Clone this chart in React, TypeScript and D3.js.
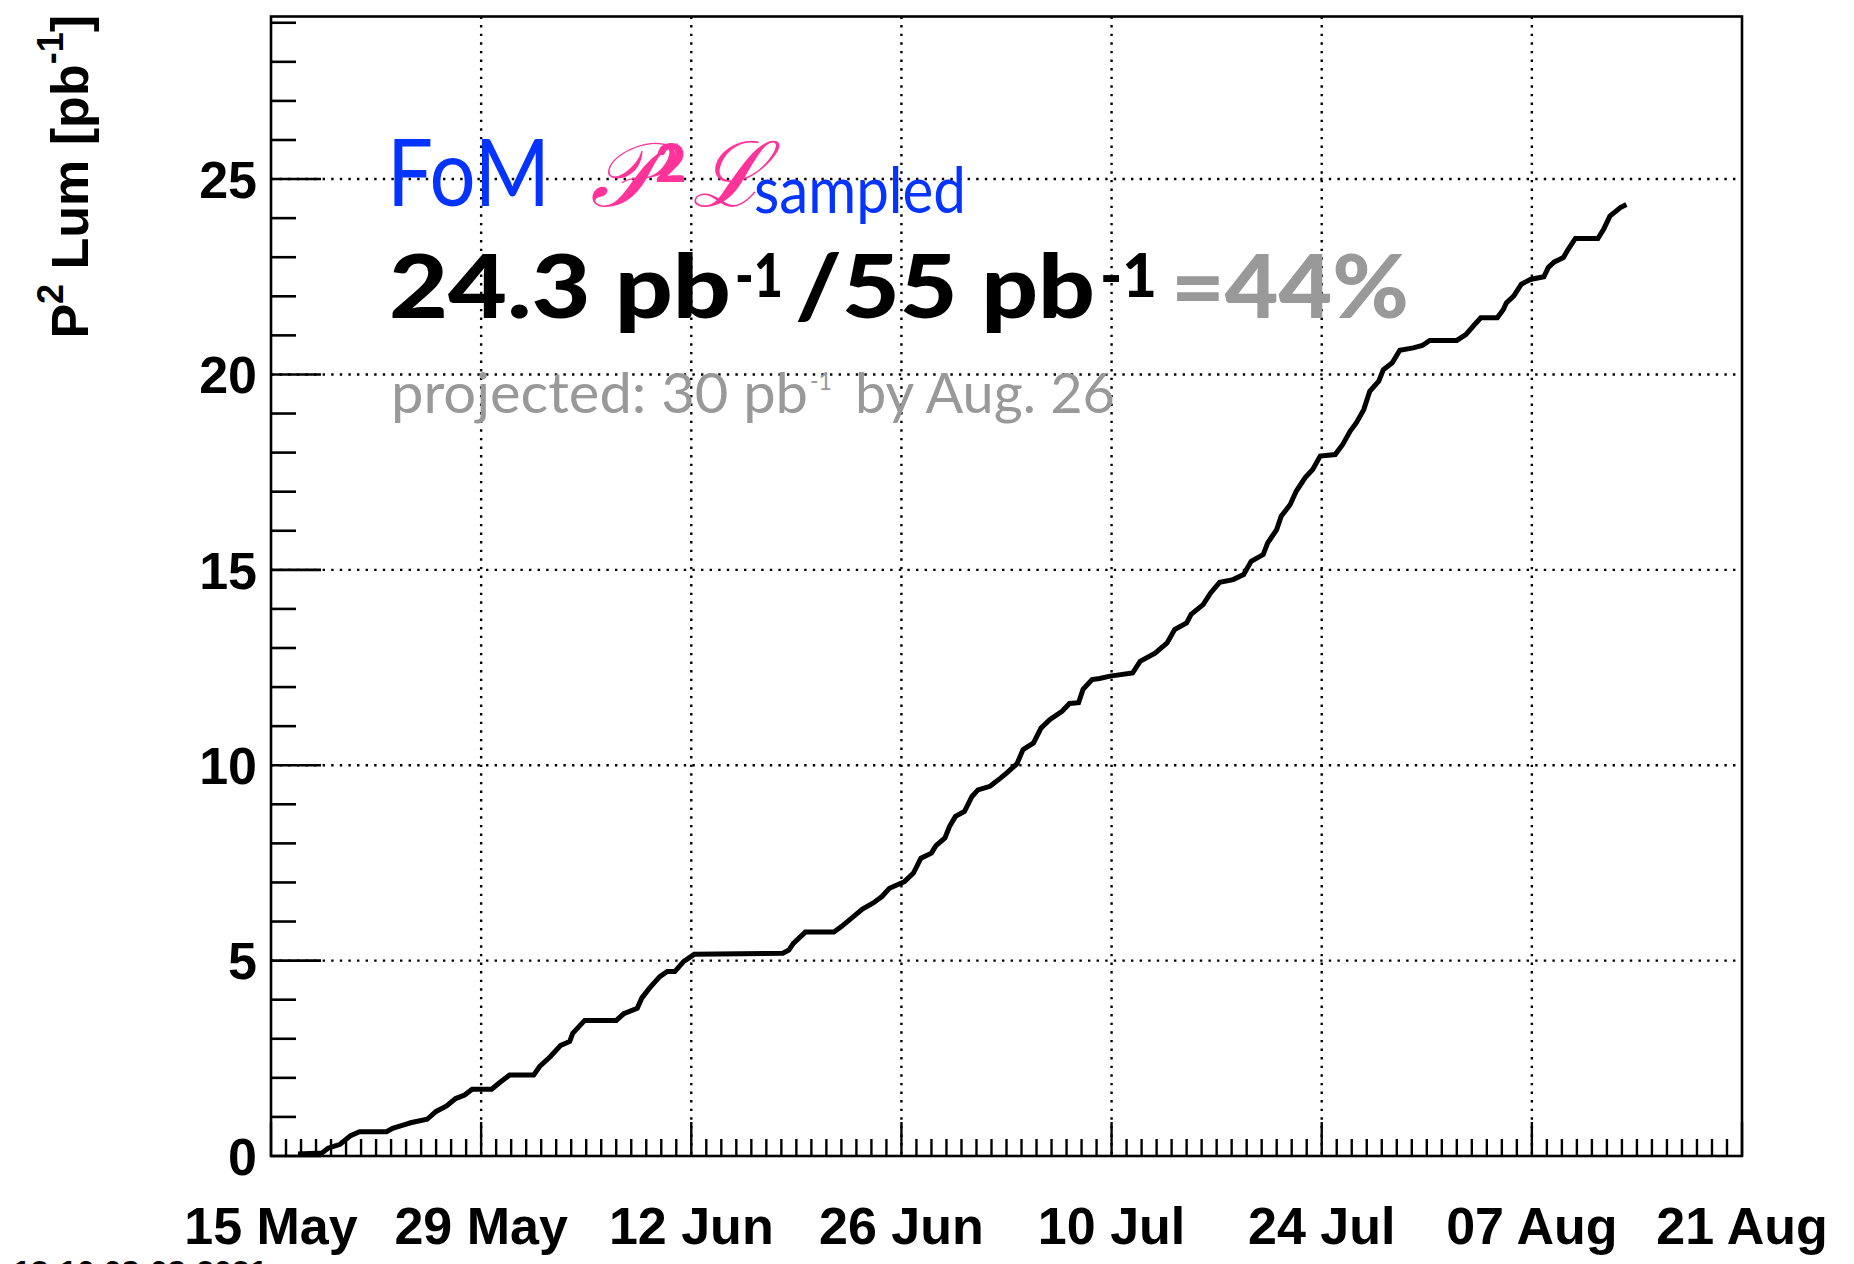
import React from 'react';
import * as d3 from 'd3';

// Days since 15 May 2021 and cumulative P^2-weighted sampled luminosity [pb^-1]
const dayOffsets = [
  1.8, 3.4, 3.8, 4.6, 5.3, 5.9, 7.7, 8.1, 8.8, 9.3, 10.4, 11.0, 11.7, 12.3, 12.9, 13.4,
  14.7, 15.3, 15.9, 17.5, 17.9, 18.6, 19.3, 19.9, 20.1, 20.9, 23.0, 23.5, 24.4, 24.7,
  25.2, 25.9, 26.4, 26.9, 27.5, 28.2, 34.1, 34.5, 34.8, 35.6, 37.5, 38.0, 38.6, 39.4,
  40.1, 40.7, 41.2, 42.2, 42.8, 43.3, 44.0, 44.3, 44.9, 45.2, 45.6, 46.2, 46.7, 47.1,
  47.9, 48.6, 49.0, 49.7, 50.1, 50.8, 51.3, 51.9, 52.7, 53.2, 53.8, 54.1, 54.7, 55.2,
  55.9, 57.4, 57.9, 58.9, 59.7, 60.2, 61.0, 61.3, 62.1, 62.6, 63.2, 64.1, 64.8, 65.3,
  66.1, 66.4, 67.0, 67.3, 67.9, 68.3, 68.9, 69.4, 69.9, 70.9, 71.4, 71.9, 72.3, 72.8,
  73.2, 73.8, 74.1, 74.7, 75.2, 76.1, 76.7, 77.2, 79.0, 79.6, 80.1, 80.6, 81.7, 82.1,
  82.3, 82.8, 83.3, 83.9, 84.8, 85.1, 85.5, 86.1, 86.4, 86.9, 88.4, 88.8, 89.2, 89.9, 90.3,
];
const lumValues = [
  0.05, 0.08, 0.2, 0.3, 0.52, 0.62, 0.62, 0.71, 0.79, 0.85, 0.94, 1.14, 1.28, 1.47, 1.56, 1.71,
  1.71, 1.9, 2.07, 2.07, 2.29, 2.54, 2.83, 2.93, 3.14, 3.47, 3.47, 3.64, 3.78, 4.04,
  4.29, 4.59, 4.72, 4.72, 4.98, 5.16, 5.19, 5.27, 5.44, 5.73, 5.73, 5.87, 6.06, 6.32,
  6.47, 6.64, 6.85, 7.02, 7.24, 7.62, 7.75, 7.94, 8.14, 8.43, 8.69, 8.82, 9.2, 9.37,
  9.46, 9.67, 9.8, 10.04, 10.4, 10.57, 10.95, 11.17, 11.38, 11.58, 11.6, 11.94, 12.19, 12.22,
  12.28, 12.36, 12.66, 12.87, 13.13, 13.47, 13.64, 13.86, 14.11, 14.41, 14.68, 14.75, 14.88, 15.22,
  15.39, 15.69, 16.03, 16.37, 16.67, 17.01, 17.36, 17.57, 17.91, 17.95, 18.21, 18.55, 18.76, 19.1,
  19.57, 19.83, 20.12, 20.3, 20.62, 20.68, 20.74, 20.87, 20.87, 21.02, 21.24, 21.45, 21.45, 21.66,
  21.83, 22.01, 22.31, 22.43, 22.5, 22.74, 22.88, 22.99, 23.19, 23.48, 23.48, 23.73, 24.05, 24.27, 24.35,
];

const xTickOffsets = [0, 14, 28, 42, 56, 70, 84, 98];
const xTickLabels = ['15 May', '29 May', '12 Jun', '26 Jun', '10 Jul', '24 Jul', '07 Aug', '21 Aug'];
const yTickValues = [0, 5, 10, 15, 20, 25];
const yTickLabels = ['0', '5', '10', '15', '20', '25'];
const yMax = 29.16;

const W = 1854;
const H = 1264;
const FR = { left: 271, right: 1742, top: 16.5, bottom: 1156 };
const DAY = 86400000;
const start = new Date(Date.UTC(2021, 4, 15));
const end = new Date(Date.UTC(2021, 7, 21));

const BLUE = '#0533ff';
const PINK = '#ff3399';
const GRAY = '#999999';
const AXIS_FONT = '"Liberation Sans", Arial, Helvetica, sans-serif';
const ANN_FONT = 'Lato, "Open Sans", sans-serif';

export default function App() {
  const x = d3.scaleUtc().domain([start, end]).range([FR.left, FR.right]);
  const y = d3.scaleLinear().domain([0, yMax]).range([FR.bottom, FR.top]);
  const toDate = (d: number) => new Date(start.getTime() + d * DAY);

  const pts: [Date, number][] = dayOffsets.map((d, i) => [toDate(d), lumValues[i]]);
  const line = d3
    .line<[Date, number]>()
    .x((d) => x(d[0]))
    .y((d) => y(d[1]));

  const minorDays = d3.utcDay.range(start, end).filter((d) => {
    const k = Math.round((d.getTime() - start.getTime()) / DAY);
    return k % 14 !== 0;
  });
  const yMinor = d3.range(1, Math.floor(yMax) + 1).filter((v) => v % 5 !== 0);

  const dotted = { stroke: '#000', strokeWidth: 2.4, strokeDasharray: '2.4 6.2', fill: 'none' };

  return (
    <svg
      width={W}
      height={H}
      viewBox={`0 0 ${W} ${H}`}
      style={{ position: 'absolute', left: 0, top: 0, background: '#fff' }}
    >
      <rect x={0} y={0} width={W} height={H} fill="#fff" />
      {/* grid */}
      {yTickValues
        .filter((v) => v > 0)
        .map((v) => (
          <line key={'gy' + v} x1={FR.left} x2={FR.right} y1={y(v)} y2={y(v)} {...dotted} />
        ))}
      {xTickOffsets.slice(1, -1).map((d) => (
        <line key={'gx' + d} x1={x(toDate(d))} x2={x(toDate(d))} y1={FR.top} y2={FR.bottom} {...dotted} />
      ))}

      {/* annotations */}
      <g fontFamily={ANN_FONT}>
        <text x={387} y={206} fontSize={93} fill={BLUE} textLength={163} lengthAdjust="spacingAndGlyphs">
          FoM
        </text>
        <text x={590} y={206} fontSize={90} fill={PINK} fontFamily='"DejaVu Serif", serif' fontStyle="italic">
          𝒫
        </text>
        <text x={655} y={182} fontSize={54} fontWeight={900} fill={PINK}>
          2
        </text>
        <text x={692} y={206} fontSize={90} fill={PINK} fontFamily='"DejaVu Serif", serif' fontStyle="italic">
          ℒ
        </text>
        <text x={754} y={213} fontSize={64} fill={BLUE} textLength={212} lengthAdjust="spacingAndGlyphs">
          sampled
        </text>

        <text x={389} y={318} fontSize={88} fontWeight={900} fill="#000" textLength={342} lengthAdjust="spacingAndGlyphs">
          24.3 pb
        </text>
        <text x={735} y={297} fontSize={60} fontWeight={900} fill="#000" textLength={48} lengthAdjust="spacingAndGlyphs">
          -1
        </text>
        <text x={795} y={318} fontSize={88} fontWeight={900} fill="#000" textLength={300} lengthAdjust="spacingAndGlyphs">
          /55 pb
        </text>
        <text x={1100} y={297} fontSize={60} fontWeight={900} fill="#000" textLength={57} lengthAdjust="spacingAndGlyphs">
          -1
        </text>
        <text x={1171} y={318} fontSize={88} fontWeight={900} fill={GRAY} textLength={238} lengthAdjust="spacingAndGlyphs">
          =44%
        </text>

        <text x={391} y={413} fontSize={56} fill={GRAY} textLength={417} lengthAdjust="spacingAndGlyphs">
          projected: 30 pb
        </text>
        <text x={810} y={390} fontSize={25} fill={GRAY} textLength={22} lengthAdjust="spacingAndGlyphs">
          -1
        </text>
        <text x={855} y={413} fontSize={56} fill={GRAY} textLength={260} lengthAdjust="spacingAndGlyphs">
          by Aug. 26
        </text>
      </g>

      {/* curve */}
      <path d={line(pts) || ''} fill="none" stroke="#000" strokeWidth={5} strokeLinejoin="miter" />

      {/* frame */}
      <rect
        x={FR.left}
        y={FR.top}
        width={FR.right - FR.left}
        height={FR.bottom - FR.top}
        fill="none"
        stroke="#000"
        strokeWidth={2.6}
      />

      {/* y ticks */}
      {yTickValues.map((v) => (
        <line key={'ym' + v} x1={FR.left} x2={FR.left + 50} y1={y(v)} y2={y(v)} stroke="#000" strokeWidth={2.6} />
      ))}
      {yMinor.map((v) => (
        <line key={'yn' + v} x1={FR.left} x2={FR.left + 25} y1={y(v)} y2={y(v)} stroke="#000" strokeWidth={2.6} />
      ))}
      {/* x ticks */}
      {xTickOffsets.map((d) => (
        <line
          key={'xm' + d}
          x1={x(toDate(d))}
          x2={x(toDate(d))}
          y1={FR.bottom}
          y2={FR.bottom - 34}
          stroke="#000"
          strokeWidth={2.4}
        />
      ))}
      {minorDays.map((d) => (
        <line
          key={'xn' + d.getTime()}
          x1={x(d)}
          x2={x(d)}
          y1={FR.bottom}
          y2={FR.bottom - 17}
          stroke="#000"
          strokeWidth={2.4}
        />
      ))}

      {/* tick labels */}
      <g fontFamily={AXIS_FONT} fontWeight="bold" fontSize={52} fill="#000">
        {yTickValues.map((v, i) => (
          <text key={'yl' + v} x={257} y={y(v)} dy="0.36em" textAnchor="end">
            {yTickLabels[i]}
          </text>
        ))}
        {xTickOffsets.map((d, i) => (
          <text key={'xl' + d} x={x(toDate(d))} y={1244} textAnchor="middle">
            {xTickLabels[i]}
          </text>
        ))}
        <text transform="translate(88,15) rotate(-90)" textAnchor="end">
          P<tspan fontSize={36} dy={-25}>2</tspan>
          <tspan dy={25}> Lum [pb</tspan>
          <tspan fontSize={36} dy={-25}>-1</tspan>
          <tspan dy={25}>]</tspan>
        </text>
      </g>

      {/* date stamp (cut by the page edge, as in the original) */}
      <text x={13} y={1283} fontFamily={AXIS_FONT} fontWeight="bold" fontSize={32} fill="#000">
        13:10 08-08-2021
      </text>
    </svg>
  );
}
